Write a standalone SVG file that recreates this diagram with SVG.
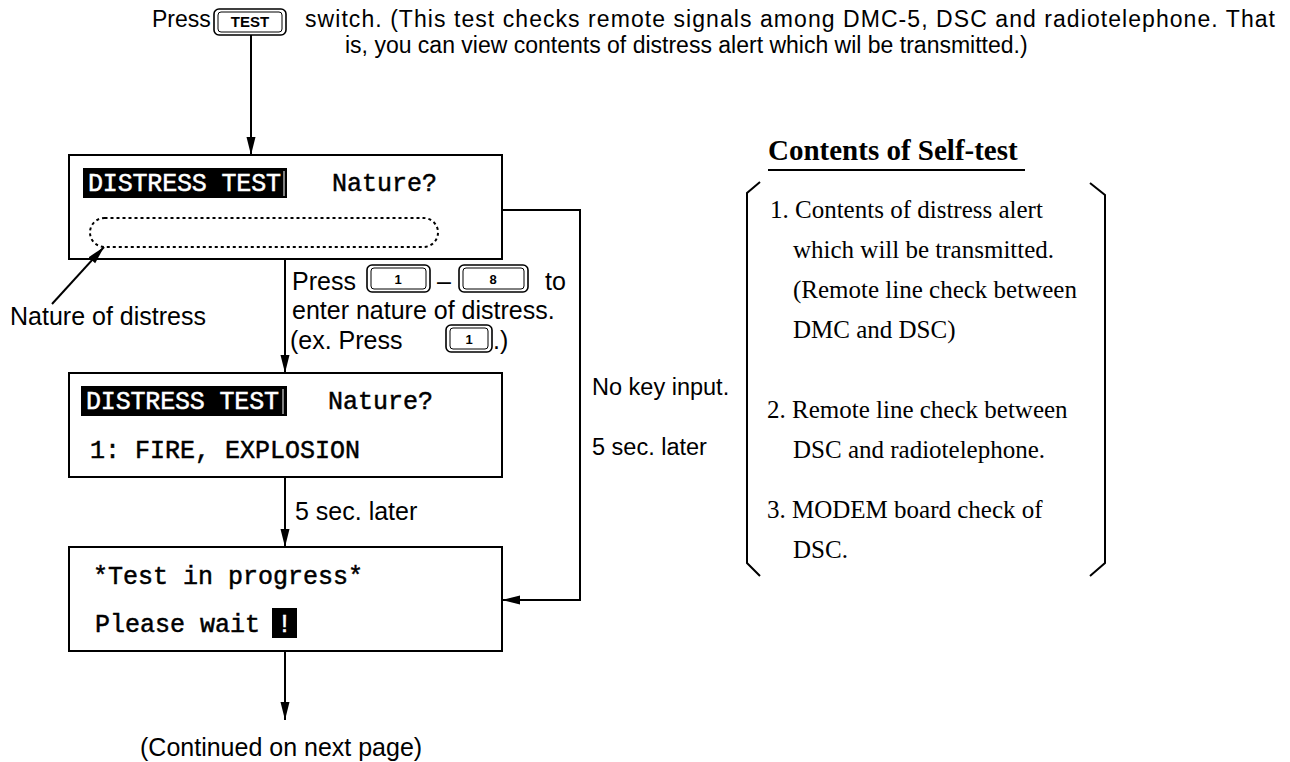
<svg xmlns="http://www.w3.org/2000/svg" width="1290" height="762" viewBox="0 0 1290 762">
<style>
.sans{font-family:"Liberation Sans",Arial,sans-serif;font-size:25px;fill:#000}
.hdr{font-family:"Liberation Sans",Arial,sans-serif;font-size:23px;fill:#000}
.lbl{font-family:"Liberation Sans",Arial,sans-serif;font-size:23.5px;fill:#000}
.serif{font-family:"Liberation Serif","Times New Roman",serif;font-size:25px;fill:#000}
.title{font-family:"Liberation Serif","Times New Roman",serif;font-size:29px;font-weight:bold;fill:#000}
.mono{font-family:"Liberation Mono","Courier New",monospace;font-size:25px;fill:#000;stroke:#000;stroke-width:0.5}
.inv{fill:#fff;stroke:#fff}
.box{fill:#fff;stroke:#000;stroke-width:2}
.ln{fill:none;stroke:#000;stroke-width:2}
.key{fill:#fff;stroke:#000;stroke-width:1.6}
.keyi{fill:none;stroke:#000;stroke-width:1}
.keyt{font-family:"Liberation Sans",Arial,sans-serif;font-size:13px;font-weight:bold;fill:#000;text-anchor:middle}
</style>
<defs>
<marker id="ah" markerUnits="userSpaceOnUse" markerWidth="20" markerHeight="10" refX="18" refY="5" orient="auto">
<path d="M0,0.5 L18,5 L0,9.5 z" fill="#000"/>
</marker>
</defs>

<g id="header">
<text class="hdr" x="152" y="27">Press</text>
<g id="key-test">
<rect class="key" x="214" y="9" width="72" height="26" rx="5"/>
<rect class="keyi" x="218" y="12" width="64" height="20" rx="3"/>
<text class="keyt" x="250" y="27" style="font-size:15px">TEST</text>
</g>
<text class="hdr" x="305" y="27" textLength="970" lengthAdjust="spacing">switch. (This test checks remote signals among DMC-5, DSC and radiotelephone. That</text>
<text class="hdr" x="345" y="53">is, you can view contents of distress alert which wil be transmitted.)</text>
</g>

<g id="node-distress-select">
<rect class="box" x="69" y="155" width="433" height="104"/>
<rect x="83" y="168" width="204" height="30" fill="#000"/>
<text class="mono inv" x="88" y="191" textLength="193">DISTRESS TEST</text>
<line x1="284" y1="171" x2="284" y2="196" stroke="#fff" stroke-width="1"/>
<text class="mono" x="332" y="191">Nature?</text>
<rect x="90" y="218" width="348" height="29" rx="14.5" fill="none" stroke="#000" stroke-width="2" stroke-dasharray="3,3"/>
</g>

<g id="label-nature">
<text class="sans" x="10" y="325">Nature of distress</text>
</g>

<g id="press-keys">
<text class="sans" x="292" y="290">Press</text>
<rect class="key" x="367" y="265" width="63" height="27" rx="5"/>
<rect class="keyi" x="371" y="268" width="55" height="21" rx="3"/>
<text class="keyt" x="398" y="284">1</text>
<text class="sans" x="437" y="290">–</text>
<rect class="key" x="459" y="265" width="69" height="27" rx="5"/>
<rect class="keyi" x="463" y="268" width="61" height="21" rx="3"/>
<text class="keyt" x="493" y="284">8</text>
<text class="sans" x="545" y="290">to</text>
<text class="sans" x="292" y="319">enter nature of distress.</text>
<text class="sans" x="290" y="349">(ex. Press</text>
<rect class="key" x="446" y="325" width="46" height="27" rx="5"/>
<rect class="keyi" x="450" y="328" width="38" height="21" rx="3"/>
<text class="keyt" x="469" y="344">1</text>
<text class="sans" x="493" y="349">.)</text>
</g>

<g id="node-distress-fire">
<rect class="box" x="69" y="373" width="433" height="104"/>
<rect x="81" y="386" width="206" height="30" fill="#000"/>
<text class="mono inv" x="86" y="409" textLength="193">DISTRESS TEST</text>
<line x1="283" y1="389" x2="283" y2="414" stroke="#fff" stroke-width="1"/>
<text class="mono" x="328" y="409">Nature?</text>
<text class="mono" x="90" y="458">1: FIRE, EXPLOSION</text>
</g>

<g id="node-progress">
<rect class="box" x="69" y="547" width="433" height="104"/>
<text class="mono" x="93" y="584">*Test in progress*</text>
<text class="mono" x="95" y="632">Please wait</text>
<rect x="272" y="608" width="25" height="30" fill="#000"/>
<text class="mono inv" x="284.5" y="632" text-anchor="middle">!</text>
</g>

<g id="connectors">
<line class="ln" x1="251" y1="35" x2="251" y2="155" marker-end="url(#ah)"/>
<line class="ln" x1="285" y1="259" x2="285" y2="373" marker-end="url(#ah)"/>
<line class="ln" x1="285" y1="477" x2="285" y2="547" marker-end="url(#ah)"/>
<line class="ln" x1="285" y1="651" x2="285" y2="720" marker-end="url(#ah)"/>
<polyline class="ln" points="502,210 580,210 580,600 502,600" marker-end="url(#ah)"/>
<line class="ln" x1="52" y1="304" x2="104" y2="247" marker-end="url(#ah)" stroke-width="1.6"/>
</g>

<g id="edge-labels">
<text class="sans" x="295" y="520">5 sec. later</text>
<text class="lbl" x="592" y="395">No key input.</text>
<text class="lbl" x="592" y="455">5 sec. later</text>
<text class="sans" x="140" y="756">(Continued on next page)</text>
</g>

<g id="self-test-contents">
<text class="title" x="768" y="160">Contents of Self-test</text>
<line x1="768" y1="170" x2="1025" y2="170" stroke="#000" stroke-width="2"/>
<polyline class="ln" points="760,182 747,193 747,563 760,576"/>
<polyline class="ln" points="1090,183 1105,195 1105,563 1090,576"/>
<text class="serif" x="770" y="218">1. Contents of distress alert</text>
<text class="serif" x="793" y="258">which will be transmitted.</text>
<text class="serif" x="793" y="298">(Remote line check between</text>
<text class="serif" x="793" y="338">DMC and DSC)</text>
<text class="serif" x="767" y="418">2. Remote line check between</text>
<text class="serif" x="793" y="458">DSC and radiotelephone.</text>
<text class="serif" x="767" y="518">3. MODEM board check of</text>
<text class="serif" x="793" y="558">DSC.</text>
</g>
</svg>
